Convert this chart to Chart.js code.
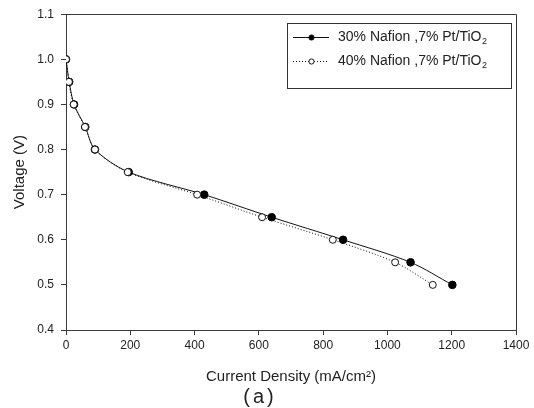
<!DOCTYPE html>
<html>
<head>
<meta charset="utf-8">
<script src="https://cdn.jsdelivr.net/npm/chart.js@4.4.1/dist/chart.umd.min.js"></script>
<style>
  html, body { margin: 0; padding: 0; background: #fff; }
  #wrap { width: 534px; height: 408px; position: relative; }
</style>
</head>
<body>
<div id="wrap"><canvas id="chart"></canvas></div>
<script>
// 30% Nafion, 7% Pt/TiO2 (filled circles, solid line)
const current30 = [0, 10, 25, 60, 90, 195, 430, 640, 862, 1072, 1202];
const voltage30 = [1.0, 0.95, 0.90, 0.85, 0.80, 0.75, 0.70, 0.65, 0.60, 0.55, 0.50];
// 40% Nafion, 7% Pt/TiO2 (open circles, dotted line)
const current40 = [0, 9, 24, 59, 90, 192, 408, 610, 830, 1024, 1141];
const voltage40 = [1.0, 0.95, 0.90, 0.85, 0.80, 0.75, 0.70, 0.65, 0.60, 0.55, 0.50];

const seriesLabels = ['30% Nafion ,7% Pt/TiO', '40% Nafion ,7% Pt/TiO'];
const xTitle = 'Current Density (mA/cm\u00B2)';
const yTitle = 'Voltage (V)';
const caption = '(a)';

const toPoints = (xs, ys) => xs.map((x, i) => ({ x: x, y: ys[i] }));

const axisColor = '#3a3a3a';
const textColor = '#222';
const fontFamily = 'Arial, "Liberation Sans", sans-serif';

// frame, legend and caption
const decorations = {
  id: 'decorations',
  afterDraw(chart) {
    const ctx = chart.ctx;
    const a = chart.chartArea;
    ctx.save();

    // top and right edges of the plot box
    ctx.strokeStyle = axisColor;
    ctx.lineWidth = 1;
    ctx.beginPath();
    ctx.moveTo(Math.round(a.left) + 0.5, Math.round(a.top) + 0.5);
    ctx.lineTo(Math.round(a.right) + 0.5, Math.round(a.top) + 0.5);
    ctx.lineTo(Math.round(a.right) + 0.5, Math.round(a.bottom) + 0.5);
    ctx.stroke();

    // legend box
    ctx.strokeStyle = '#333';
    ctx.strokeRect(287.5, 23.5, 224, 65);

    const rows = [
      { y: 37, dash: [], filled: true },
      { y: 61, dash: [1, 2], filled: false },
    ];
    rows.forEach((r, i) => {
      ctx.strokeStyle = '#111';
      ctx.lineWidth = 1;
      ctx.setLineDash(r.dash);
      ctx.beginPath();
      ctx.moveTo(293, r.y + 0.5);
      ctx.lineTo(329, r.y + 0.5);
      ctx.stroke();
      ctx.setLineDash([]);
      ctx.beginPath();
      ctx.arc(311.5, r.y + 0.5, 2.6, 0, Math.PI * 2);
      ctx.fillStyle = r.filled ? '#000' : '#fff';
      ctx.fill();
      ctx.stroke();

      ctx.fillStyle = textColor;
      ctx.font = '14px ' + fontFamily;
      ctx.textAlign = 'left';
      ctx.textBaseline = 'middle';
      ctx.fillText(seriesLabels[i], 338, r.y);
      const w = ctx.measureText(seriesLabels[i]).width;
      ctx.font = '9px ' + fontFamily;
      ctx.fillText('2', 338 + w + 0.5, r.y + 5);
    });

    // caption
    ctx.fillStyle = textColor;
    ctx.font = '20px ' + fontFamily;
    ctx.textAlign = 'center';
    ctx.textBaseline = 'middle';
    ctx.letterSpacing = '3px';
    ctx.fillText(caption, 260, 397);
    ctx.restore();
  }
};

new Chart(document.getElementById('chart'), {
  type: 'line',
  data: {
    datasets: [
      {
        label: seriesLabels[1],
        data: toPoints(current40, voltage40),
        borderColor: '#111',
        borderWidth: 1,
        borderDash: [1, 2],
        tension: 0.3,
        pointRadius: 3.5,
        pointBackgroundColor: '#fff',
        pointBorderColor: '#111',
        pointBorderWidth: 1,
        fill: false,
      },
      {
        label: seriesLabels[0],
        data: toPoints(current30, voltage30),
        borderColor: '#111',
        borderWidth: 1,
        tension: 0.3,
        pointRadius: 3.8,
        pointBackgroundColor: '#000',
        pointBorderColor: '#000',
        pointBorderWidth: 1,
        fill: false,
      },
    ],
  },
  options: {
    responsive: true,
    maintainAspectRatio: false,
    animation: false,
    layout: { padding: { top: 14, right: 18, left: 0, bottom: 0 } },
    plugins: {
      legend: { display: false },
      tooltip: { enabled: false },
    },
    scales: {
      x: {
        type: 'linear',
        min: 0,
        max: 1400,
        afterFit(scale) { scale.height = 78; },
        border: { color: axisColor, width: 1 },
        grid: { drawOnChartArea: false, drawTicks: true, tickLength: 5, color: axisColor },
        ticks: {
          stepSize: 200,
          padding: 3,
          color: textColor,
          font: { family: fontFamily, size: 12 },
          maxRotation: 0,
          callback: v => String(v),
        },
        title: {
          display: true,
          text: xTitle,
          color: textColor,
          font: { family: fontFamily, size: 15 },
          padding: { top: 0, bottom: 22 },
        },
      },
      y: {
        type: 'linear',
        min: 0.4,
        max: 1.1,
        afterFit(scale) { scale.width = 66; },
        border: { color: axisColor, width: 1 },
        grid: { drawOnChartArea: false, drawTicks: true, tickLength: 5, color: axisColor },
        ticks: {
          stepSize: 0.1,
          padding: 7,
          color: textColor,
          font: { family: fontFamily, size: 12 },
          callback: v => v.toFixed(1),
        },
        title: {
          display: true,
          text: yTitle,
          color: textColor,
          font: { family: fontFamily, size: 15 },
          padding: { top: 11, bottom: 0 },
        },
      },
    },
  },
  plugins: [decorations],
});
</script>
</body>
</html>
